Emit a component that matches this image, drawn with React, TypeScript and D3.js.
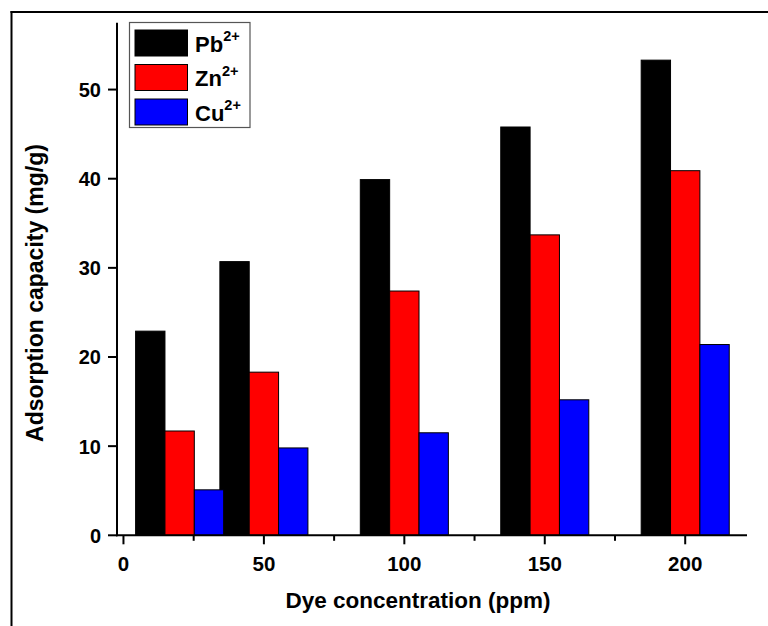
import React from "react";
import * as d3 from "d3";

// Dye concentrations (ppm) at which each group of bars is centred
const concentrations = [20, 50, 100, 150, 200];
const seriesNames = ["Pb", "Zn", "Cu"];
const seriesColors = ["#000000", "#ff0000", "#0000ff"];
const pbValues = [22.9, 30.7, 39.9, 45.8, 53.3];
const znValues = [11.7, 18.3, 27.4, 33.7, 40.9];
const cuValues = [5.1, 9.8, 11.5, 15.2, 21.4];
const xMajorTicks = [0, 50, 100, 150, 200];
const xMinorTicks = [25, 75, 125, 175];
const yTicks = [0, 10, 20, 30, 40, 50];

const W = 768;
const H = 626;
const FONT = "'Liberation Sans', Arial, sans-serif";
const BAR_WIDTH = 10.45; // in data units (ppm)

export default function App() {
  const x = d3.scaleLinear().domain([-2.3, 222]).range([117, 747]);
  const y = d3.scaleLinear().domain([0, 57.5]).range([535.3, 22.7]);
  const series = [pbValues, znValues, cuValues];

  const bars: React.ReactNode[] = [];
  series.forEach((vals, si) => {
    vals.forEach((v, i) => {
      const c = concentrations[i] + (si - 1) * BAR_WIDTH;
      const x0 = x(c - BAR_WIDTH / 2);
      const x1 = x(c + BAR_WIDTH / 2);
      bars.push(
        <rect
          key={`${si}-${i}`}
          x={x0}
          y={y(v)}
          width={x1 - x0}
          height={y(0) - y(v)}
          fill={seriesColors[si]}
          stroke="#000"
          strokeWidth={1}
        />
      );
    });
  });

  const y0 = y(0);
  const xL = x.range()[0];

  return (
    <svg
      width={W}
      height={H}
      style={{ position: "absolute", left: 0, top: 0, background: "#fff" }}
      fontFamily={FONT}
      fontWeight="bold"
    >
      <rect x={0} y={0} width={W} height={H} fill="#fff" />
      {/* outer frame */}
      <line x1={11.5} y1={11} x2={11.5} y2={H} stroke="#000" strokeWidth={2} />
      <line x1={10.5} y1={12} x2={W} y2={12} stroke="#000" strokeWidth={2} />

      {bars}

      {/* y axis */}
      <line x1={xL} y1={y.range()[1]} x2={xL} y2={y0 + 1} stroke="#000" strokeWidth={2} />
      {yTicks.map((t) => (
        <g key={`y${t}`}>
          <line x1={xL - 9} x2={xL} y1={y(t)} y2={y(t)} stroke="#000" strokeWidth={2} />
          <text x={101} y={y(t) + 7.4} textAnchor="end" fontSize={20}>
            {t}
          </text>
        </g>
      ))}

      {/* x axis */}
      <line x1={xL - 1} y1={y0} x2={x.range()[1]} y2={y0} stroke="#000" strokeWidth={2} />
      {xMajorTicks.map((t) => (
        <g key={`x${t}`}>
          <line x1={x(t)} x2={x(t)} y1={y0} y2={y0 + 9} stroke="#000" strokeWidth={2} />
          <text x={x(t)} y={571} textAnchor="middle" fontSize={20.5}>
            {t}
          </text>
        </g>
      ))}
      {xMinorTicks.map((t) => (
        <line key={`m${t}`} x1={x(t)} x2={x(t)} y1={y0} y2={y0 + 5.5} stroke="#000" strokeWidth={2} />
      ))}

      {/* axis titles */}
      <text x={418} y={608} textAnchor="middle" fontSize={22.5}>
        Dye concentration (ppm)
      </text>
      <text
        transform="translate(43,293) rotate(-90)"
        textAnchor="middle"
        fontSize={23}
      >
        Adsorption capacity (mg/g)
      </text>

      {/* legend */}
      <rect x={129.5} y={22.5} width={120.5} height={105} fill="#fff" stroke="#555" strokeWidth={1.2} />
      {seriesNames.map((name, i) => {
        const cy = 43 + i * 34.5;
        return (
          <g key={name}>
            <rect x={135} y={cy - 13} width={52.5} height={26} fill={seriesColors[i]} stroke="#000" strokeWidth={1} />
            <text x={195} y={cy + 8.7} fontSize={22}>
              {name}
              <tspan dy={-10.5} fontSize={14.5}>
                2+
              </tspan>
            </text>
          </g>
        );
      })}
    </svg>
  );
}
